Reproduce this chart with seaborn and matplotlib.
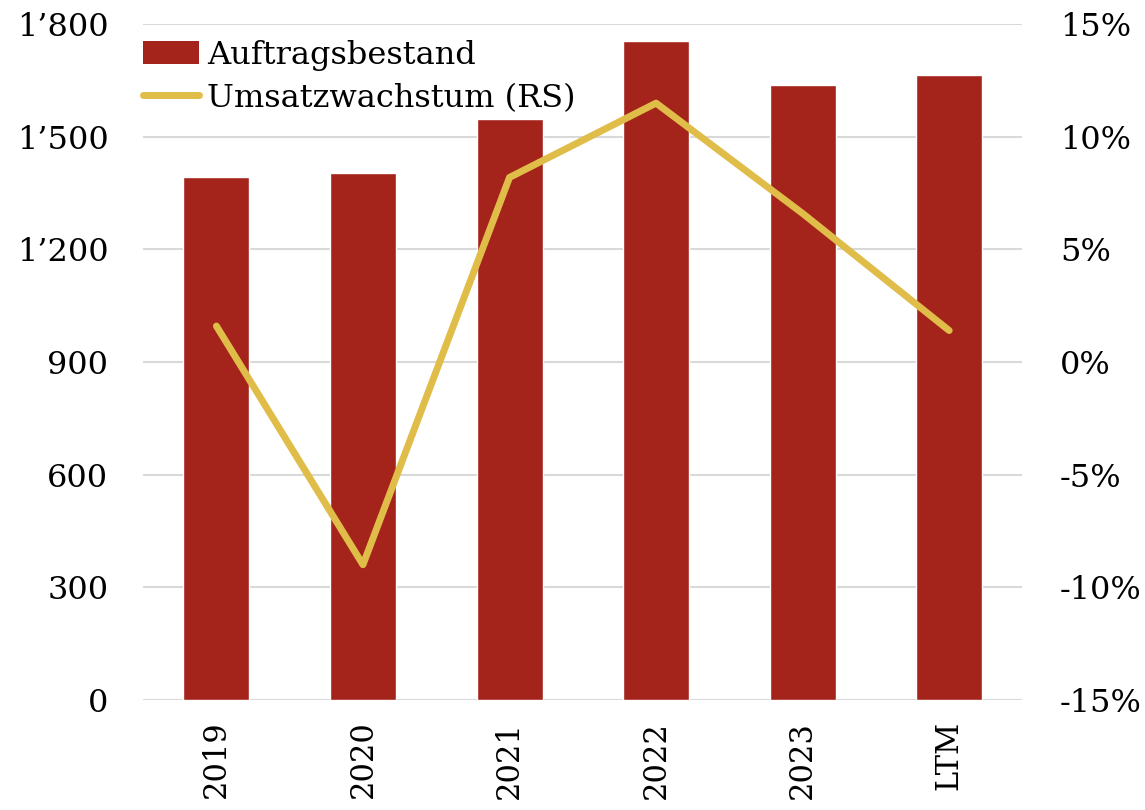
import numpy as np
import pandas as pd
import seaborn as sns
import matplotlib.pyplot as plt
from matplotlib.ticker import FuncFormatter, MultipleLocator
from matplotlib.patches import Patch
from matplotlib.lines import Line2D

# Data
categories = ["2019", "2020", "2021", "2022", "2023", "LTM"]
auftragsbestand = [1392, 1403, 1547, 1755, 1637, 1664]
umsatzwachstum = [1.6, -9.0, 8.2, 11.5, 6.6, 1.4]  # in %

bar_color = "#A4231B"
line_color = "#DFBD48"
grid_color = "#D9D9D9"

sns.set_theme(style="white")
plt.rcParams["font.family"] = ["DejaVu Serif"]
plt.rcParams["text.color"] = "black"
plt.rcParams["xtick.color"] = "black"
plt.rcParams["ytick.color"] = "black"
fs = 23

df = pd.DataFrame({"cat": categories, "ab": auftragsbestand,
                   "pos": np.arange(len(categories)), "uw": umsatzwachstum})

fig = plt.figure(figsize=(11.45, 8.1), dpi=100)
ax = fig.add_axes([0.125, 0.136, 0.768, 0.834])

sns.barplot(data=df, x="cat", y="ab", color=bar_color, width=0.45,
            saturation=1, ax=ax, zorder=2)
ax.set_ylim(0, 1800)
ax.yaxis.set_major_locator(MultipleLocator(300))
ax.yaxis.set_major_formatter(FuncFormatter(lambda v, p: f"{int(v):,}".replace(",", "\u2019")))
ax.grid(axis="y", color=grid_color, linewidth=1.5, zorder=0)
ax.set_axisbelow(True)
for s in ax.spines.values():
    s.set_visible(False)
ax.set_xlabel("")
ax.set_ylabel("")
ax.set_xlim(-0.5, len(categories) - 0.5)
ax.tick_params(axis="y", labelsize=fs, pad=25, length=0)
ax.tick_params(axis="x", labelsize=22, pad=15, length=0, rotation=90)

ax2 = ax.twinx()
sns.lineplot(data=df, x="pos", y="uw", color=line_color, linewidth=5,
             solid_capstyle="round", ax=ax2)
ax2.set_ylim(-15, 15)
ax2.yaxis.set_major_locator(MultipleLocator(5))
ax2.yaxis.set_major_formatter(FuncFormatter(lambda v, p: f"{int(round(v))}%"))
ax2.tick_params(axis="y", labelsize=fs, pad=27, length=0)
for s in ax2.spines.values():
    s.set_visible(False)
ax2.set_ylabel("")
ax2.set_xlabel("")
ax2.set_xlim(-0.5, len(categories) - 0.5)

handles = [Patch(facecolor=bar_color, edgecolor="none"),
           Line2D([0], [0], color=line_color, linewidth=5, solid_capstyle="round")]
ax2.legend(handles, ["Auftragsbestand", "Umsatzwachstum (RS)"], loc="upper left",
           bbox_to_anchor=(0.0, 0.977), frameon=False, fontsize=fs,
           handlelength=1.75, handleheight=0.7, handletextpad=0.25,
           labelspacing=0.37, borderaxespad=0, borderpad=0)

fig.savefig("out.png", dpi=100)
